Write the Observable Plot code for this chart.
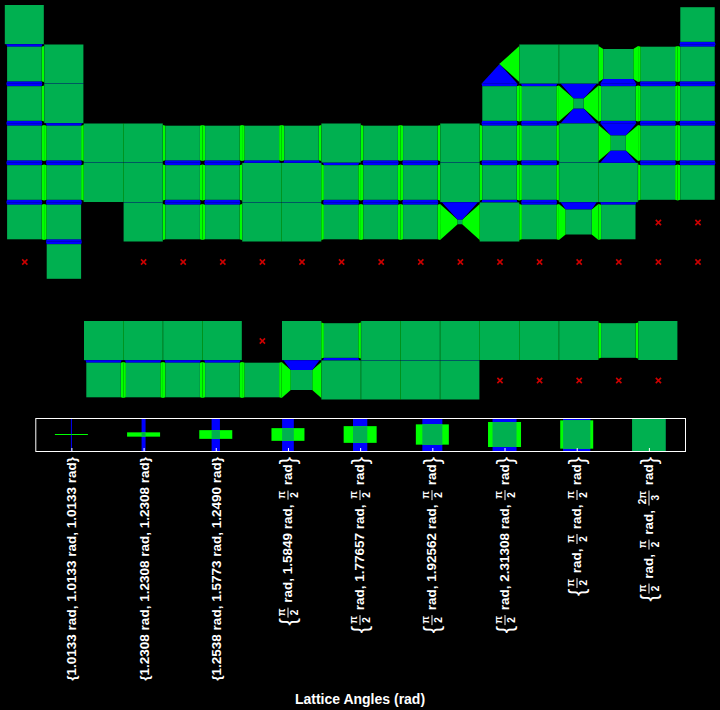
<!DOCTYPE html>
<html>
<head>
<meta charset="utf-8">
<script src="https://cdn.jsdelivr.net/npm/d3@7"></script>
<script src="https://cdn.jsdelivr.net/npm/@observablehq/plot@0.6"></script>
<style>
html, body { margin: 0; padding: 0; background: #000; }
#wrap { position: relative; width: 720px; height: 710px; background: #000; overflow: hidden;
  font-family: "Liberation Sans", Arial, Helvetica, sans-serif; }
#wrap svg { position: absolute; left: 0; }
.lbl { position: absolute; white-space: nowrap; color: #fff; font-weight: bold; font-size: 13.5px;
  line-height: 1; transform-origin: 0 0; transform: rotate(-90deg) translate(-100%, -50%); }
.lbl span { vertical-align: middle; }
.frac { display: inline-flex; flex-direction: column; align-items: center; font-size: 10px; margin: 0 1px; }
.frac .n { border-bottom: 1px solid #fff; padding: 0 1px 1px 1px; line-height: 1; }
.frac .d { line-height: 1; padding-top: 1px; }
.big { font-size: 22px; font-weight: normal; }
.title { position: absolute; left: 0; width: 720px; top: 691px; text-align: center; color: #fff;
  font-weight: bold; font-size: 14px; line-height: 16px; }
</style>
</head>
<body>
<div id="wrap"></div>
<script>
// ---------------- data ----------------
const tableLayout = [
  "H . . . . . . . . . . . . . . . . He",
  "Li Be . . . . . . . . . . B C N O F Ne",
  "Na Mg . . . . . . . . . . Al Si P S Cl Ar",
  "K Ca Sc Ti V Cr Mn Fe Co Ni Cu Zn Ga Ge As Se Br Kr",
  "Rb Sr Y Zr Nb Mo Tc Ru Rh Pd Ag Cd In Sn Sb Te I Xe",
  "Cs Ba . Hf Ta W Re Os Ir Pt Au Hg Tl Pb Bi Po At Rn",
  "Fr Ra . Rf Db Sg Bh Hs Mt Ds Rg Cn Nh Fl Mc Lv Ts Og",
  "",
  ". . La Ce Pr Nd Pm Sm Eu Gd Tb Dy Ho Er Tm Yb Lu",
  ". . Ac Th Pa U Np Pu Am Cm Bk Cf Es Fm Md No Lr"
];
// lattice-angle class of each element (index into legendLabels, 1-based; 0 = no data)
const latticeClass = [
  "9 . . . . . . . . . . . . . . . . 8",
  "8 9 . . . . . . . . . . 1 9 9 7 8 8",
  "8 9 . . . . . . . . . . 8 8 3 8 8 8",
  "8 8 9 9 8 8 8 8 9 8 8 9 8 8 9 4 8 8",
  "8 8 9 9 8 8 9 9 8 8 8 9 8 8 9 9 8 8",
  "8 8 . 9 8 8 9 9 8 8 8 2 9 8 6 8 0 0",
  "0 8 . 0 0 0 0 0 0 0 0 0 0 0 0 0 0 0",
  "",
  ". . 9 9 9 9 0 9 8 9 9 9 9 9 9 8 9",
  ". . 8 8 8 8 8 5 9 9 9 9 0 0 0 0 0"
];
const legendLabels = [
  "{1.0133 rad, 1.0133 rad, 1.0133 rad}",
  "{1.2308 rad, 1.2308 rad, 1.2308 rad}",
  "{1.2538 rad, 1.5773 rad, 1.2490 rad}",
  "{π/2 rad, 1.5849 rad, π/2 rad}",
  "{π/2 rad, 1.77657 rad, π/2 rad}",
  "{π/2 rad, 1.92562 rad, π/2 rad}",
  "{π/2 rad, 2.31308 rad, π/2 rad}",
  "{π/2 rad, π/2 rad, π/2 rad}",
  "{π/2 rad, π/2 rad, 2π/3 rad}"
];
const axisTitle = "Lattice Angles (rad)";

// ---------------- glyph styling ----------------
const DARK = "#00b050", LIGHT = "#00ff00", BLUE = "#0000ff", RED = "#cc0000";
// inner (dark) face size per class in the table, px [w, h]
const innerPx = {1:[0.8,0.8],2:[4.5,4.5],3:[10,10],4:[15,15],5:[21.5,20],6:[26,25],7:[30,30],8:[34.4,34.6],9:[39,39]};
// legend glyph cross size per class, px [blue width, green height]
const legendPx = {1:[1,1],2:[4,4.3],3:[8.3,8.7],4:[11.7,12.7],5:[14.3,16.7],6:[20,20.3],7:[24,25],8:[27.3,28.3],9:[33,33]};
const colPx = 39.6, rowPx = 39.5;

// ---------------- build cells ----------------
const cells = [];
tableLayout.forEach((line, r) => {
  if (!line) return;
  const syms = line.split(" "), cls = latticeClass[r].split(" ");
  syms.forEach((s, c) => { if (s !== ".") cells.push({symbol: s, col: c + 1, row: r + 1, cls: +cls[c]}); });
});
const present = cells.filter(d => d.cls > 0);
const missing = cells.filter(d => d.cls === 0);
const has = new Set(present.map(d => d.col + "," + d.row));
const iw = d => innerPx[d.cls][0] / 2 / colPx;
const ih = d => innerPx[d.cls][1] / 2 / rowPx;

const sideFaces = [], capFaces = [];
present.forEach(d => {
  const [wpx, hpx] = innerPx[d.cls];
  const w = iw(d), h = ih(d);
  const gx = Math.min((colPx - wpx) / 2, 1.8) / colPx;
  const gy = Math.min((rowPx - hpx) / 2, 1.8) / rowPx;
  const c = d.col, r = d.row;
  for (const s of [-1, 1]) {
    if (has.has((c + s) + "," + r)) {
      const id = d.symbol + (s < 0 ? "L" : "R");
      sideFaces.push({id, x: c + s * 0.5, y1: r - 0.5 + gy, y2: r + 0.5 - gy});
      sideFaces.push({id, x: c + s * w, y1: r - h, y2: r + h});
    }
    if (has.has(c + "," + (r + s))) {
      const id = d.symbol + (s < 0 ? "T" : "B");
      capFaces.push({id, y: r + s * 0.5, x1: c - 0.5 + gx, x2: c + 0.5 - gx});
      capFaces.push({id, y: r + s * h, x1: c - w, x2: c + w});
    }
  }
});

const wrap = document.getElementById("wrap");

const table = Plot.plot({
  width: 720, height: 410, margin: 0,
  style: {background: "black", color: "white"},
  x: {domain: [1 - 24.3 / colPx, 1 + (720 - 24.3) / colPx], range: [0, 720], axis: null},
  y: {domain: [1 - 24.5 / rowPx, 1 + (410 - 24.5) / rowPx], range: [0, 410], axis: null},
  marks: [
    Plot.area(sideFaces, {x1: "x", y1: "y1", y2: "y2", z: "id", fill: LIGHT, stroke: "none"}),
    Plot.area(capFaces, {x1: "x1", x2: "x2", y1: "y", z: "id", fill: BLUE, stroke: "none"}),
    Plot.rect(present, {x1: d => d.col - iw(d), x2: d => d.col + iw(d), y1: d => d.row - ih(d), y2: d => d.row + ih(d), fill: DARK}),
    Plot.dot(missing, {x: "col", y: "row", symbol: "times", r: 2.5, stroke: RED, strokeWidth: 1.6})
  ]
});
table.style.top = "0px";
wrap.appendChild(table);

// ---------------- legend ----------------
const idx = d3.range(1, legendLabels.length + 1);
const lx0 = 35.3, lx1 = 685;
const kx = legendLabels.length / (lx1 - lx0);
const legend = Plot.plot({
  width: 720, height: 50, marginTop: 8, marginBottom: 9, marginLeft: lx0, marginRight: 720 - lx1,
  style: {background: "black", color: "white"},
  x: {domain: [0.5, legendLabels.length + 0.5], axis: null},
  y: {domain: [-16.5, 16.5], axis: null},
  marks: [
    Plot.rect(idx, {x1: i => i - legendPx[i][0] / 2 * kx, x2: i => i + legendPx[i][0] / 2 * kx, y1: -16.5, y2: 16.5, fill: BLUE}),
    Plot.rect(idx, {x1: i => i - 16.5 * kx, x2: i => i + 16.5 * kx, y1: i => -legendPx[i][1] / 2, y2: i => legendPx[i][1] / 2, fill: LIGHT}),
    Plot.rect(idx, {x1: i => i - legendPx[i][0] / 2 * kx, x2: i => i + legendPx[i][0] / 2 * kx, y1: i => -legendPx[i][1] / 2, y2: i => legendPx[i][1] / 2, fill: DARK}),
    Plot.ruleX(idx, {x: d => d, y1: -16.5, y2: -13.5, stroke: "white"}),
    Plot.frame({stroke: "white"})
  ]
});
legend.style.top = "410px";
wrap.appendChild(legend);

// rotated tick labels, positioned with the legend's x scale
const sx = legend.scale("x");
function labelHTML(s) {
  const hasFrac = /π\//.test(s);
  let inner = s.slice(1, -1)
    .replace(/&/g, "&amp;")
    .replace(/(\d*π)\/(\d+)/g, '<span class="frac"><span class="n">$1</span><span class="d">$2</span></span>');
  const br = hasFrac ? "big" : "";
  return `<span class="${br}">{</span><span>${inner}</span><span class="${br}">}</span>`;
}
legendLabels.forEach((s, k) => {
  const el = document.createElement("div");
  el.className = "lbl";
  el.innerHTML = labelHTML(s);
  el.style.left = sx.apply(k + 1) + "px";
  el.style.top = "456.5px";
  wrap.appendChild(el);
});
const t = document.createElement("div");
t.className = "title";
t.textContent = axisTitle;
wrap.appendChild(t);
</script>
</body>
</html>
